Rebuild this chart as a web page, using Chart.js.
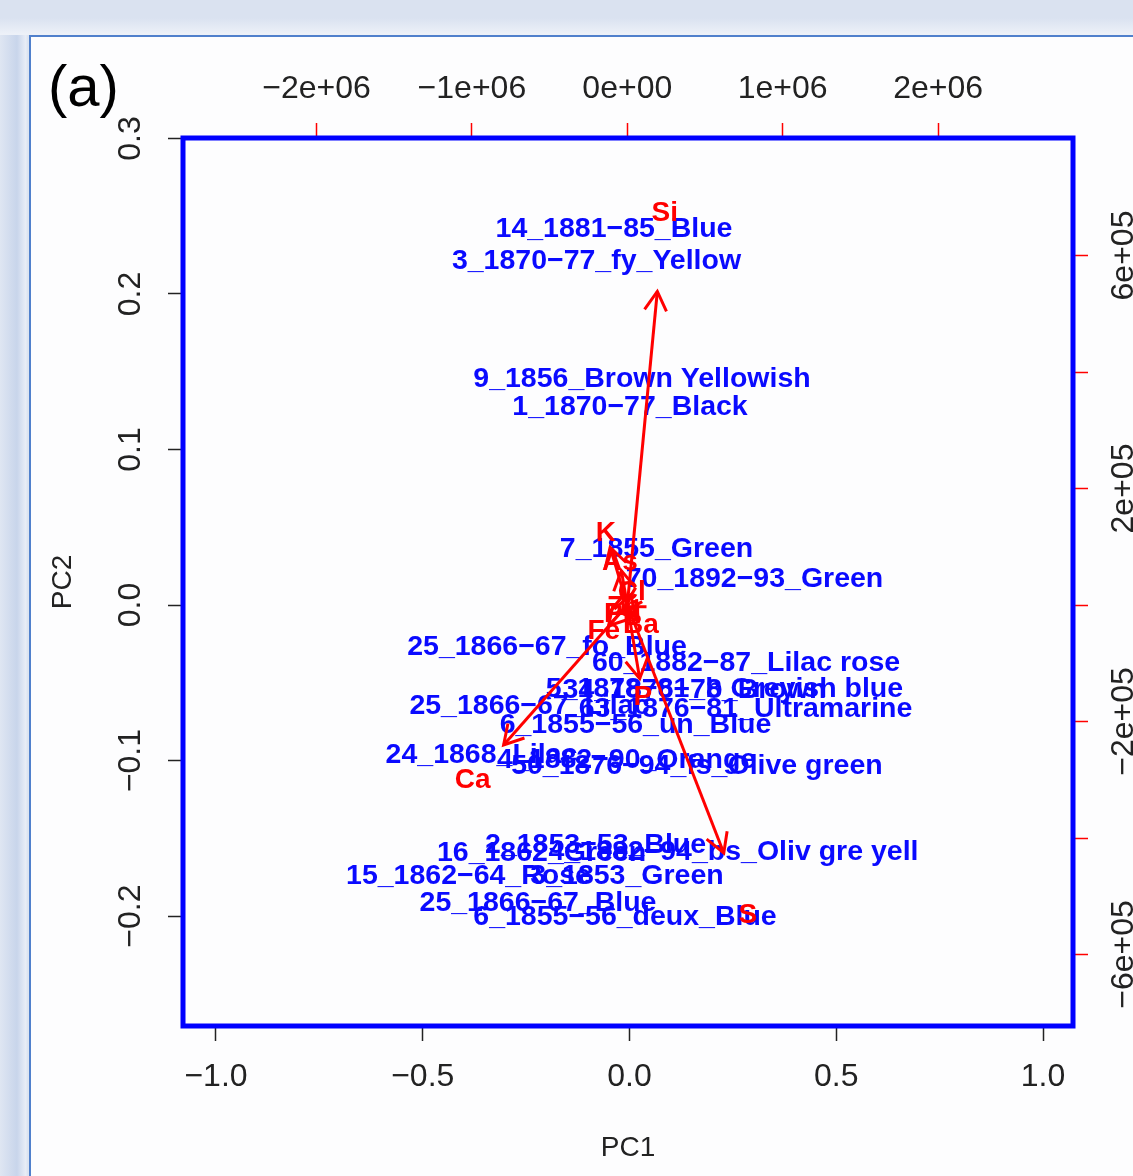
<!DOCTYPE html>
<html>
<head>
<meta charset="utf-8">
<script src="https://cdn.jsdelivr.net/npm/chart.js@4.4.1/dist/chart.umd.min.js"></script>
<style>
  html, body { margin: 0; padding: 0; }
  body {
    width: 1133px; height: 1176px; overflow: hidden; position: relative;
    background: linear-gradient(to right, #dfe6f2 0px, #c8d5eb 17px, #e9eef7 26px, #dce4f1 27px);
    font-family: "Liberation Sans", Arial, sans-serif;
  }
  #band { position: absolute; left: 0; top: 0; width: 1133px; height: 35px;
    background: linear-gradient(#dae2f0 0px, #dae2f0 18px, #edf1f8 34px); }
  #panel { position: absolute; left: 29px; top: 35px; width: 1120px; height: 1160px;
    background: #fdfdfe; border-left: 2px solid #5080cc; border-top: 2px solid #5080cc; }
  #tag { position: absolute; left: 48px; top: 53px; font-size: 58px; line-height: 66px; color: #000; }
  #chart { position: absolute; left: 0; top: 0; }
</style>
</head>
<body>
<div id="band"></div>
<div id="panel"></div>
<div id="tag">(a)</div>
<canvas id="chart" width="1133" height="1176"></canvas>
<script>
// sample scores (bottom / left axes)
const obsLabels = [
  '14_1881\u221285_Blue', '3_1870\u221277_fy_Yellow', '9_1856_Brown Yellowish', '1_1870\u221277_Black',
  '7_1855_Green', '70_1892\u221293_Green', '25_1866\u221267_fo_Blue', '60_1882\u221287_Lilac rose',
  '5_1878\u221281_b Greyish blue', '34_1876\u221278_Brown', '25_1866\u221267_Lilac', '63_1876\u221281_Ultramarine',
  '6_1855\u221256_un_Blue', '24_1868_Lilac', '4_1882\u221290_Orange', '50_1876\u221294_fs_Olive green',
  '2_1853\u221253_Blue', '16_1862_Green', '4_1882\u221294_bs_Oliv gre yell', '15_1862\u221264_Rose',
  '3_1853_Green', '25_1866\u221267_Blue', '6_1855\u221256_deux_Blue'
];
const obsPC1 = [-0.0375, -0.0798, 0.0302, 0.0012, 0.0653, 0.3023, -0.1995, 0.2817,
  0.2297, 0.157, -0.242, 0.2806, 0.0145, -0.358, -0.007, 0.163,
  -0.082, -0.2128, 0.2515, -0.3894, -0.006, -0.2213, -0.0109];
const obsPC2 = [0.2418, 0.2212, 0.1453, 0.1273, 0.036, 0.0167, -0.027, -0.0373,
  -0.054, -0.0547, -0.065, -0.0669, -0.0772, -0.0965, -0.0997, -0.1035,
  -0.1543, -0.1595, -0.1588, -0.1743, -0.1743, -0.1916, -0.2006];

// element loadings (top / right axes)
const varNames = ['Si', 'Ca', 'S', 'P', 'K', 'As', 'Cl', 'Zn', 'Pb', 'Ba', 'Fe'];
const varPC1 = [241500, -995000, 776000, 99800, -138000, -48000, 29000, -22500, -35000, 87000, -151000];
const varPC2 = [673000, -300400, -532000, -158000, 123600, 73800, 22300, -3400, -15500, -34300, -44600];
const ARROW_SCALE = 0.8;   // biplot draws arrows to 0.8 of the loading

// axes
const pc1Ticks = [-1, -0.5, 0, 0.5, 1];
const pc2Ticks = [-0.2, -0.1, 0, 0.1, 0.2, 0.3];
const topTicks = [-2e6, -1e6, 0, 1e6, 2e6];
const topLabels = ['\u22122e+06', '\u22121e+06', '0e+00', '1e+06', '2e+06'];
const rightTicks = [-6e5, -4e5, -2e5, 0, 2e5, 4e5, 6e5];
const rightLabels = ['\u22126e+05', '', '\u22122e+05', '', '2e+05', '', '6e+05'];

const FONT = '"Liberation Sans", Arial, sans-serif';
const minus = s => s.replace('-', '\u2212');

const datasets = [
  { type: 'scatter', data: obsPC1.map((x, i) => ({ x: x, y: obsPC2[i] })), pointRadius: 0, xAxisID: 'x', yAxisID: 'y' },
  { type: 'scatter', data: varPC1.map((x, i) => ({ x: x, y: varPC2[i] })), pointRadius: 0, xAxisID: 'x2', yAxisID: 'y2' }
];
varNames.forEach((n, i) => {
  datasets.push({
    type: 'line', label: n, xAxisID: 'x2', yAxisID: 'y2',
    data: [{ x: 0, y: 0 }, { x: varPC1[i] * ARROW_SCALE, y: varPC2[i] * ARROW_SCALE }],
    borderColor: '#ff0000', borderWidth: 3, pointRadius: 0, fill: false, tension: 0
  });
});

const biplotText = {
  id: 'biplotText',
  beforeDatasetsDraw(chart) {
    const ctx = chart.ctx;
    ctx.save();
    ctx.font = 'bold 28.5px ' + FONT;
    ctx.fillStyle = '#0a0aff';
    ctx.textAlign = 'center';
    ctx.textBaseline = 'middle';
    chart.getDatasetMeta(0).data.forEach((pt, i) => ctx.fillText(obsLabels[i], pt.x, pt.y));
    ctx.restore();
  },
  afterDatasetsDraw(chart) {
    const ctx = chart.ctx;
    const a = chart.chartArea;
    ctx.save();
    // arrow heads
    ctx.strokeStyle = '#ff0000';
    ctx.lineWidth = 3;
    for (let k = 0; k < varNames.length; k++) {
      const m = chart.getDatasetMeta(2 + k).data;
      const p0 = m[0], p1 = m[1];
      const ang = Math.atan2(p1.y - p0.y, p1.x - p0.x);
      const h = 22, w = Math.PI / 6;
      ctx.beginPath();
      ctx.moveTo(p1.x - h * Math.cos(ang - w), p1.y - h * Math.sin(ang - w));
      ctx.lineTo(p1.x, p1.y);
      ctx.lineTo(p1.x - h * Math.cos(ang + w), p1.y - h * Math.sin(ang + w));
      ctx.stroke();
    }
    // element labels
    ctx.font = 'bold 28px ' + FONT;
    ctx.fillStyle = '#ff0000';
    ctx.textAlign = 'center';
    ctx.textBaseline = 'middle';
    chart.getDatasetMeta(1).data.forEach((pt, i) => ctx.fillText(varNames[i], pt.x, pt.y));
    // frame
    ctx.strokeStyle = '#0000ff';
    ctx.lineWidth = 5;
    ctx.strokeRect(a.left, a.top, a.right - a.left, a.bottom - a.top);
    ctx.restore();
  },
  afterDraw(chart) {
    const ctx = chart.ctx;
    ctx.save();
    ctx.font = '32px ' + FONT;
    ctx.fillStyle = '#222';
    ctx.textAlign = 'center';
    ctx.textBaseline = 'alphabetic';
    const ys = chart.scales.y;
    pc2Ticks.forEach(v => {
      ctx.save();
      ctx.translate(140, ys.getPixelForValue(v));
      ctx.rotate(-Math.PI / 2);
      ctx.fillText(minus(v.toFixed(1)), 0, 0);
      ctx.restore();
    });
    const yr = chart.scales.y2;
    rightTicks.forEach((v, i) => {
      if (!rightLabels[i]) return;
      ctx.save();
      ctx.translate(1133, yr.getPixelForValue(v));
      ctx.rotate(-Math.PI / 2);
      ctx.fillText(rightLabels[i], 0, 0);
      ctx.restore();
    });
    ctx.restore();
  }
};

const tickFont = { family: FONT, size: 32 };
const setTicks = vals => s => { s.ticks = vals.map(v => ({ value: v })); };

new Chart(document.getElementById('chart'), {
  type: 'scatter',
  data: { datasets: datasets },
  options: {
    responsive: false,
    animation: false,
    layout: { padding: 0 },
    plugins: { legend: { display: false }, tooltip: { enabled: false } },
    scales: {
      x: {
        type: 'linear', position: 'bottom', min: -1.0798, max: 1.0725,
        afterBuildTicks: setTicks(pc1Ticks),
        afterFit: s => { s.height = 150; },
        ticks: { font: tickFont, color: '#222', padding: 17, maxRotation: 0, callback: v => minus(v.toFixed(1)) },
        grid: { drawOnChartArea: false, tickLength: 15, tickColor: '#222', tickWidth: 1.5 },
        border: { display: false },
        title: { display: true, text: 'PC1', color: '#222', font: { family: FONT, size: 28 }, padding: { top: 0, bottom: 11 } }
      },
      y: {
        type: 'linear', position: 'left', min: -0.2707, max: 0.3003,
        afterBuildTicks: setTicks(pc2Ticks),
        afterFit: s => { s.width = 183; },
        ticks: { display: false },
        grid: { drawOnChartArea: false, tickLength: 15, tickColor: '#222', tickWidth: 1.5 },
        border: { display: false },
        title: { display: true, text: 'PC2', color: '#222', font: { family: FONT, size: 28 }, padding: { top: 46, bottom: 0 } }
      },
      x2: {
        type: 'linear', position: 'top', min: -2.859e6, max: 2.868e6,
        afterBuildTicks: setTicks(topTicks),
        afterFit: s => { s.height = 138; },
        ticks: { font: tickFont, color: '#222', padding: 15, maxRotation: 0, callback: (v, i) => topLabels[i] },
        grid: { drawOnChartArea: false, tickLength: 15, tickColor: '#ff0000', tickWidth: 1.5 },
        border: { display: false }
      },
      y2: {
        type: 'linear', position: 'right', min: -0.7227e6, max: 0.8017e6,
        afterBuildTicks: setTicks(rightTicks),
        afterFit: s => { s.width = 60; },
        ticks: { display: false },
        grid: { drawOnChartArea: false, tickLength: 15, tickColor: '#ff0000', tickWidth: 1.5 },
        border: { display: false }
      }
    }
  },
  plugins: [biplotText]
});
</script>
</body>
</html>
